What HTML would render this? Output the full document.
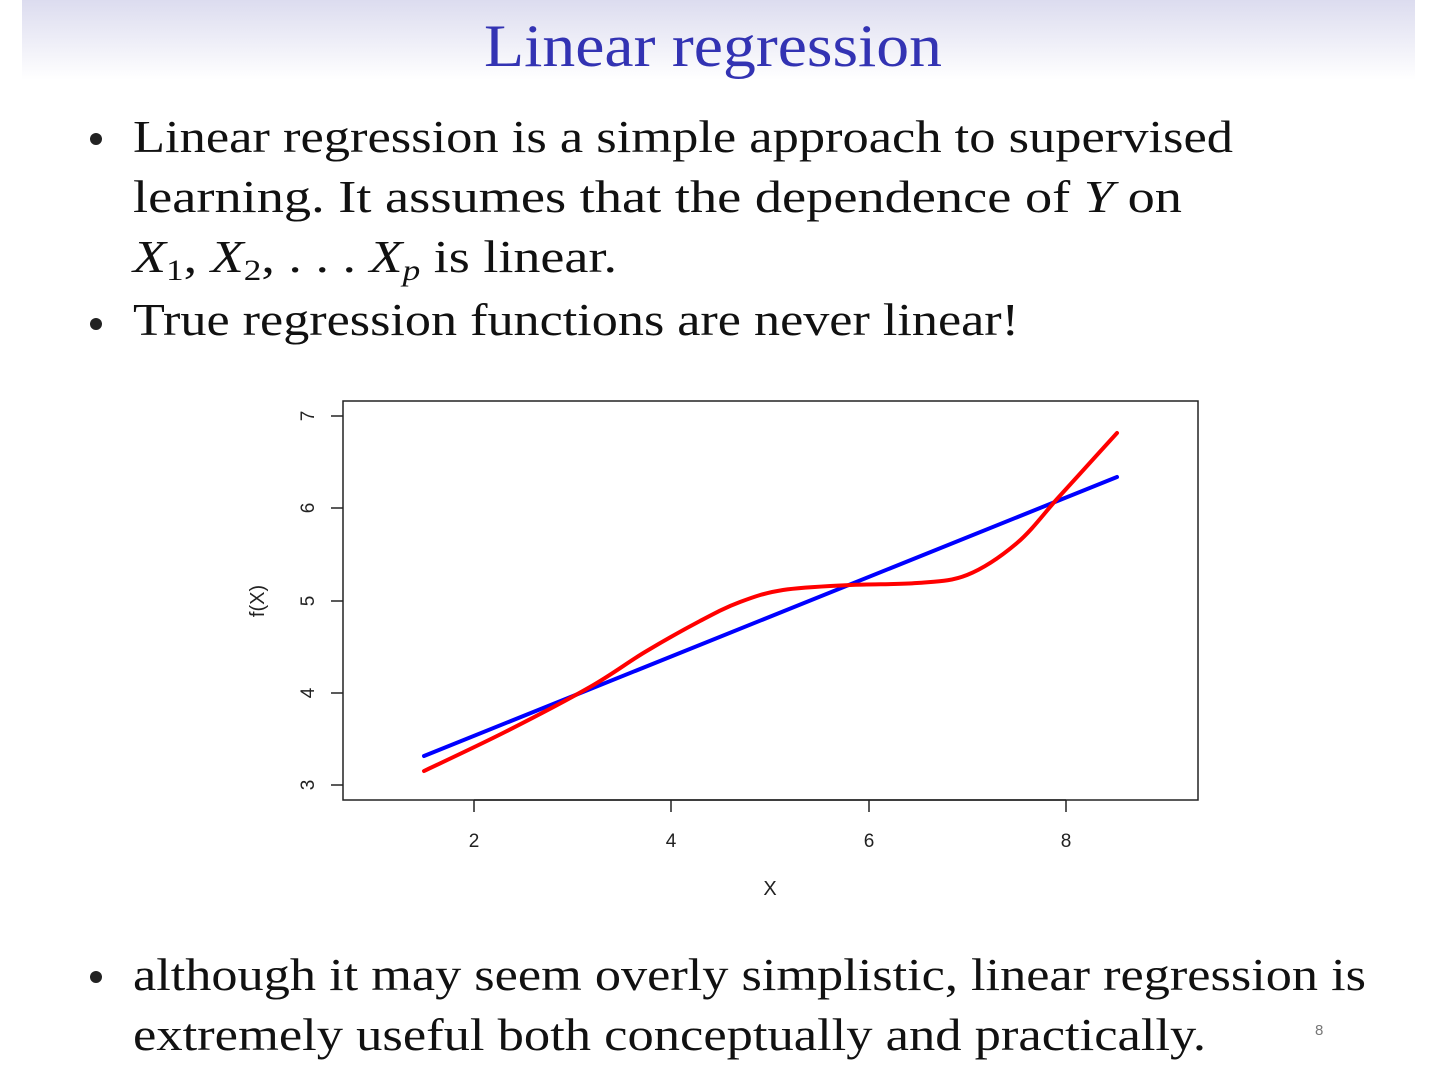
<!DOCTYPE html>
<html><head><meta charset="utf-8"><style>
html,body{margin:0;padding:0;background:#fff}
</style></head><body>
<svg width="1440" height="1080" xmlns="http://www.w3.org/2000/svg" style="display:block">
<defs><linearGradient id="g" x1="0" y1="0" x2="0" y2="1">
<stop offset="0" stop-color="#dcdcef"/><stop offset="1" stop-color="#ffffff"/></linearGradient></defs>
<rect x="22" y="0" width="1393" height="80" fill="url(#g)"/>
<text x="484" y="66" font-family="Liberation Serif, serif" font-size="60" fill="#3333b3" textLength="458" lengthAdjust="spacingAndGlyphs">Linear regression</text>
<g font-family="Liberation Serif, serif" font-size="46" fill="#111">
<circle cx="96" cy="139" r="6" fill="#222"/>
<text x="133" y="152" textLength="1100" lengthAdjust="spacingAndGlyphs">Linear regression is a simple approach to supervised</text>
<text x="133" y="212" textLength="1049" lengthAdjust="spacingAndGlyphs">learning. It assumes that the dependence of <tspan font-style="italic">Y</tspan> on</text>
<text x="133" y="272" textLength="484" lengthAdjust="spacingAndGlyphs"><tspan font-style="italic">X</tspan><tspan font-size="30" dy="8">1</tspan><tspan dy="-8">, </tspan><tspan font-style="italic">X</tspan><tspan font-size="30" dy="8">2</tspan><tspan dy="-8">, . . . </tspan><tspan font-style="italic">X</tspan><tspan font-size="30" font-style="italic" dy="8">p</tspan><tspan dy="-8"> is linear.</tspan></text>
<circle cx="96" cy="324" r="6" fill="#222"/>
<text x="133" y="335" textLength="886" lengthAdjust="spacingAndGlyphs">True regression functions are never linear!</text>
<circle cx="96" cy="977" r="6" fill="#222"/>
<text x="133" y="990" textLength="1233" lengthAdjust="spacingAndGlyphs">although it may seem overly simplistic, linear regression is</text>
<text x="133" y="1050" textLength="1073" lengthAdjust="spacingAndGlyphs">extremely useful both conceptually and practically.</text>
</g>
<text x="1315" y="1035" font-family="Liberation Sans, sans-serif" font-size="15" fill="#777">8</text>
<g stroke="#222" stroke-width="1.5" fill="none">
<rect x="343" y="401" width="855" height="399"/>
<line x1="474" y1="800" x2="1066" y2="800"/>
<line x1="474" y1="800" x2="474" y2="812"/>
<line x1="671" y1="800" x2="671" y2="812"/>
<line x1="869" y1="800" x2="869" y2="812"/>
<line x1="1066" y1="800" x2="1066" y2="812"/>
<line x1="331" y1="416" x2="343" y2="416"/>
<line x1="331" y1="508" x2="343" y2="508"/>
<line x1="331" y1="601" x2="343" y2="601"/>
<line x1="331" y1="693" x2="343" y2="693"/>
<line x1="331" y1="785" x2="343" y2="785"/>
</g>
<g font-family="Liberation Sans, sans-serif" font-size="19" fill="#222" text-anchor="middle">
<text x="474" y="847">2</text><text x="671" y="847">4</text><text x="869" y="847">6</text><text x="1066" y="847">8</text>
<text x="770" y="895" font-size="20">X</text>
<text transform="translate(314,416) rotate(-90)">7</text>
<text transform="translate(314,508) rotate(-90)">6</text>
<text transform="translate(314,601) rotate(-90)">5</text>
<text transform="translate(314,693) rotate(-90)">4</text>
<text transform="translate(314,785) rotate(-90)">3</text>
<text transform="translate(264,601) rotate(-90)" font-size="20">f(X)</text>
</g>
<line x1="424" y1="756" x2="1117" y2="477" stroke="#0000ff" stroke-width="4" stroke-linecap="round"/>
<path id="red" fill="none" stroke="#ff0000" stroke-width="4" stroke-linecap="round" d="M424,771 L1117,433"/>
</svg>
<script>
var p=[[424,771],[505,732],[590,687],[645,652],[700,621],[740,602],[783,590],[850,585],[917,583],[967,575],[1017,543],[1057,499],[1087,466],[1117,433]];
var d="M"+p[0][0]+","+p[0][1];
for(var i=0;i<p.length-1;i++){
var a=p[i-1]||p[i],b=p[i],c=p[i+1],e=p[i+2]||p[i+1];
d+=" C"+(b[0]+(c[0]-a[0])/6)+","+(b[1]+(c[1]-a[1])/6)+" "+(c[0]-(e[0]-b[0])/6)+","+(c[1]-(e[1]-b[1])/6)+" "+c[0]+","+c[1];
}
document.getElementById("red").setAttribute("d",d);
</script>
</body></html>
